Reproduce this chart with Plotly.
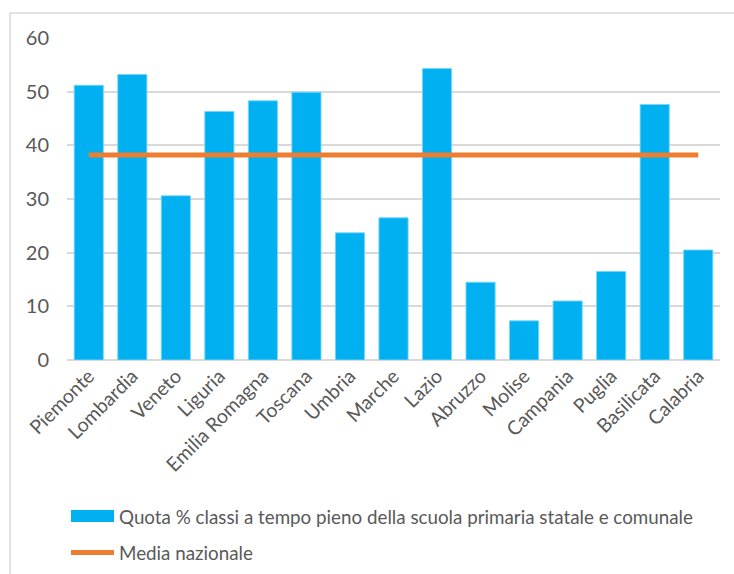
import plotly.graph_objects as go

# Regional share of full-time classes, state and municipal primary schools
regioni = [
    "Piemonte", "Lombardia", "Veneto", "Liguria", "Emilia Romagna",
    "Toscana", "Umbria", "Marche", "Lazio", "Abruzzo", "Molise",
    "Campania", "Puglia", "Basilicata", "Calabria",
]
quota_tempo_pieno = [51.2, 53.2, 30.6, 46.3, 48.3, 49.9, 23.7, 26.5,
                     54.3, 14.5, 7.3, 11.0, 16.5, 47.6, 20.5]
media_nazionale = 38.2

nome_barre = "Quota % classi a tempo pieno della scuola primaria statale e comunale"
nome_linea = "Media nazionale"

y_ticks = [0, 10, 20, 30, 40, 50, 60]

W, H = 734, 574
M_L, M_R, M_T, M_B = 67, 14, 38, 214
PW, PH = W - M_L - M_R, H - M_T - M_B

BLU = "#00B0F0"
ARANCIO = "#ED7D31"
GRIGIO_TESTO = "#595959"
GRIGIO_LINEE = "#D9D9D9"
FONT = "Lato"


def px_x(x):
    return (x - M_L) / PW


def px_y(y):
    return (H - M_B - y) / PH


fig = go.Figure()
fig.add_trace(go.Bar(
    x=regioni, y=quota_tempo_pieno, name=nome_barre,
    marker=dict(color=BLU, line=dict(color="rgba(120,215,250,0.9)", width=1)),
    showlegend=False,
))
fig.add_trace(go.Scatter(
    x=regioni, y=[media_nazionale] * len(regioni), name=nome_linea,
    mode="lines", line=dict(color=ARANCIO, width=5),
    showlegend=False,
))

shapes = [
    # chart area border
    dict(type="rect", xref="paper", yref="paper",
         x0=px_x(10), x1=px_x(W + 20), y0=px_y(H + 20), y1=px_y(13),
         line=dict(color=GRIGIO_LINEE, width=1.5), fillcolor="rgba(0,0,0,0)",
         layer="below"),
    # legend keys
    dict(type="rect", xref="paper", yref="paper",
         x0=px_x(71), x1=px_x(114), y0=px_y(522), y1=px_y(510),
         line=dict(width=0), fillcolor=BLU),
    dict(type="line", xref="paper", yref="paper",
         x0=px_x(71), x1=px_x(114), y0=px_y(552.5), y1=px_y(552.5),
         line=dict(color=ARANCIO, width=5)),
]

annotations = [
    dict(text=nome_barre, xref="paper", yref="paper", x=px_x(117), y=px_y(516),
         xanchor="left", yanchor="middle", showarrow=False,
         font=dict(family=FONT, size=18.8, color=GRIGIO_TESTO)),
    dict(text=nome_linea, xref="paper", yref="paper", x=px_x(117), y=px_y(552),
         xanchor="left", yanchor="middle", showarrow=False,
         font=dict(family=FONT, size=18.8, color=GRIGIO_TESTO)),
]

fig.update_layout(
    width=W, height=H,
    margin=dict(l=M_L, r=M_R, t=M_T, b=M_B, pad=0),
    paper_bgcolor="white", plot_bgcolor="white",
    bargap=0.33,
    font=dict(family=FONT, size=19, color=GRIGIO_TESTO),
    shapes=shapes, annotations=annotations,
    showlegend=False,
)
fig.update_xaxes(
    tickangle=-45, showgrid=False, showline=False, ticks="",
    tickfont=dict(family=FONT, size=19.5, color=GRIGIO_TESTO),
)
fig.update_yaxes(
    range=[0, 60], tickvals=y_ticks, showgrid=True, gridcolor=GRIGIO_LINEE,
    gridwidth=1.5, zeroline=True, zerolinecolor=GRIGIO_LINEE, zerolinewidth=2,
    showline=False, ticks="", ticklabelstandoff=17,
    tickfont=dict(family=FONT, size=20, color=GRIGIO_TESTO),
)

fig.write_html("out.html")
